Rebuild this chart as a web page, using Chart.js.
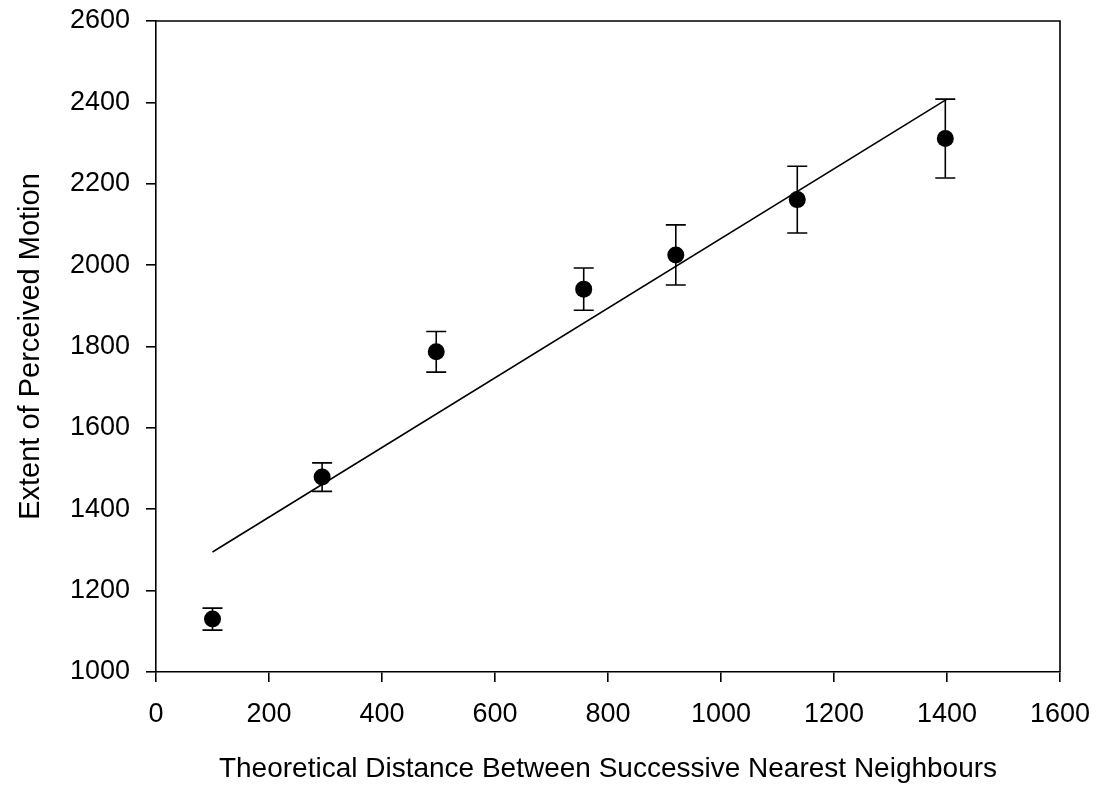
<!DOCTYPE html>
<html>
<head>
<meta charset="utf-8">
<script src="https://cdn.jsdelivr.net/npm/chart.js@4.4.1/dist/chart.umd.min.js"></script>
<style>
  html, body { margin: 0; padding: 0; background: #fff; }
  #wrap { width: 1099px; height: 794px; position: relative; }
</style>
</head>
<body>
<div id="wrap"><canvas id="c" width="1099" height="794"></canvas></div>
<script>
// ---- data ----
const distances = [100, 294, 496, 757, 920, 1135, 1397];
const perceived = [1130, 1479, 1787, 1941, 2025, 2161, 2311];
const errors    = [27, 35, 50, 52, 74, 82, 97];
const fitX = [100, 1400];
const fitY = [1295, 2408];
const xTicks = [0, 200, 400, 600, 800, 1000, 1200, 1400, 1600];
const xTickLabels = ['0', '200', '400', '600', '800', '1000', '1200', '1400', '1600'];
const yTicks = [1000, 1200, 1400, 1600, 1800, 2000, 2200, 2400, 2600];
const yTickLabels = ['1000', '1200', '1400', '1600', '1800', '2000', '2200', '2400', '2600'];
const xTitle = 'Theoretical Distance Between Successive Nearest Neighbours';
const yTitle = 'Extent of Perceived Motion';

const points = distances.map((x, i) => ({ x: x, y: perceived[i] }));
const fitLine = fitX.map((x, i) => ({ x: x, y: fitY[i] }));

const errorBarPlugin = {
  id: 'errorBars',
  beforeDatasetsDraw(chart) {
    const ctx = chart.ctx;
    const xs = chart.scales.x, ys = chart.scales.y;
    ctx.save();
    ctx.strokeStyle = '#000';
    ctx.lineWidth = 1.6;
    const cap = 10;
    distances.forEach((d, i) => {
      const px = xs.getPixelForValue(d);
      const top = ys.getPixelForValue(perceived[i] + errors[i]);
      const bot = ys.getPixelForValue(perceived[i] - errors[i]);
      ctx.beginPath();
      ctx.moveTo(px, top); ctx.lineTo(px, bot);
      ctx.moveTo(px - cap, top); ctx.lineTo(px + cap, top);
      ctx.moveTo(px - cap, bot); ctx.lineTo(px + cap, bot);
      ctx.stroke();
    });
    ctx.restore();
  }
};

const framePlugin = {
  id: 'frame',
  afterDraw(chart) {
    const a = chart.chartArea, ctx = chart.ctx;
    ctx.save();
    ctx.strokeStyle = '#000';
    ctx.lineWidth = 1.6;
    ctx.beginPath();
    ctx.moveTo(a.left, a.top); ctx.lineTo(a.right, a.top); ctx.lineTo(a.right, a.bottom);
    ctx.stroke();
    ctx.restore();
  }
};

const FONT = "'Liberation Sans', Arial, sans-serif";

new Chart(document.getElementById('c'), {
  type: 'scatter',
  data: {
    datasets: [
      {
        label: 'fit',
        type: 'line',
        data: fitLine,
        borderColor: '#000',
        borderWidth: 1.6,
        pointRadius: 0,
        fill: false,
        tension: 0
      },
      {
        label: 'means',
        data: points,
        backgroundColor: '#000',
        borderColor: '#000',
        pointRadius: 8.5,
        pointHoverRadius: 8.5,
        borderWidth: 0
      }
    ]
  },
  options: {
    responsive: false,
    animation: false,
    events: [],
    layout: { padding: { top: 21, right: 39, left: 0, bottom: 0 } },
    plugins: { legend: { display: false }, tooltip: { enabled: false } },
    scales: {
      x: {
        type: 'linear',
        min: 0, max: 1600,
        afterFit(s) { s.height = 122; s.paddingLeft = 0; s.paddingRight = 0; },
        afterBuildTicks(s) { s.ticks = xTicks.map(v => ({ value: v })); },
        ticks: {
          color: '#000',
          font: { family: FONT, size: 27 },
          padding: 16,
          maxRotation: 0,
          callback: (v, i) => xTickLabels[i]
        },
        grid: { drawOnChartArea: false, drawTicks: true, tickLength: 10, color: '#000', lineWidth: 1.6 },
        border: { display: true, color: '#000', width: 1.6 },
        title: {
          display: true,
          text: xTitle,
          color: '#000',
          font: { family: FONT, size: 28 },
          padding: { top: 0, bottom: 8 }
        }
      },
      y: {
        type: 'linear',
        min: 1000, max: 2600,
        afterFit(s) { s.width = 156; s.paddingTop = 0; s.paddingBottom = 0; },
        afterBuildTicks(s) { s.ticks = yTicks.map(v => ({ value: v })); },
        ticks: {
          color: '#000',
          font: { family: FONT, size: 27 },
          padding: 16,
          callback: (v, i) => yTickLabels[i]
        },
        grid: { drawOnChartArea: false, drawTicks: true, tickLength: 10, color: '#000', lineWidth: 1.6 },
        border: { display: true, color: '#000', width: 1.6 },
        title: {
          display: true,
          text: yTitle,
          color: '#000',
          font: { family: FONT, size: 29 },
          padding: { top: 14, bottom: 0 }
        }
      }
    }
  },
  plugins: [errorBarPlugin, framePlugin]
});
</script>
</body>
</html>
